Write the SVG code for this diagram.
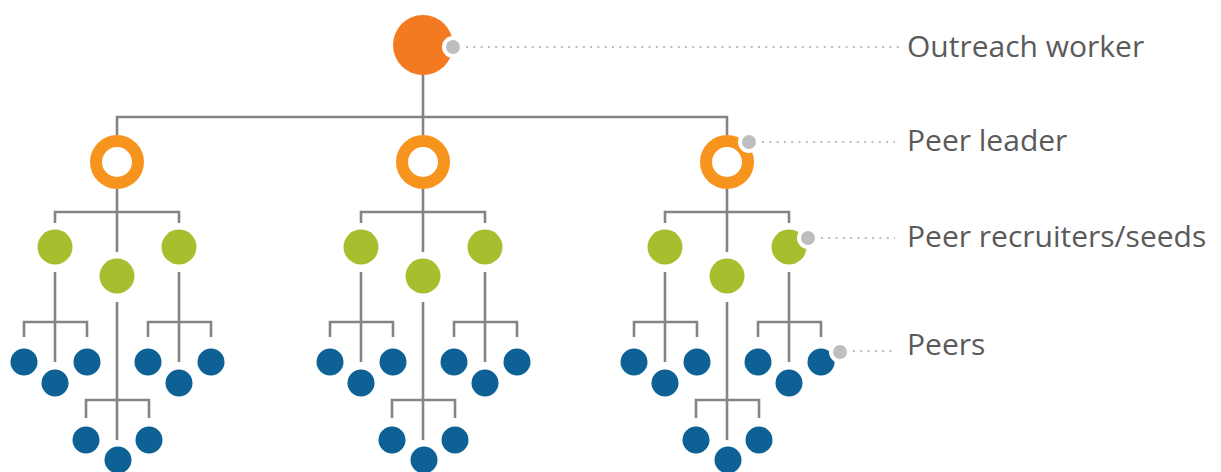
<svg xmlns="http://www.w3.org/2000/svg" width="1221" height="472" viewBox="0 0 1221 472">
  <style>
    .link { fill: none; stroke: #848484; stroke-width: 2.6; }
    .lead { fill: none; stroke: #BDBDC0; stroke-width: 2; stroke-dasharray: 2 5.3; }
    .worker { fill: #F47A21; }
    .leader { fill: none; stroke: #F7941E; stroke-width: 12; }
    .seed { fill: #A9BE2E; }
    .peer { fill: #0D6194; }
    .tag { fill: #BEBEC1; stroke: #FFFFFF; stroke-width: 4; }
    .label { font-family: "Open Sans", "Noto Sans", "Liberation Sans", sans-serif; font-size: 30px; fill: #5A5A5A; }
  </style>
  <defs>
    <!-- one branch: three seeds, each with three peers -->
    <g id="branch">
      <path class="link" d="M0 189V252 M-62 223V212H62V223
        M-62 272V362 M-93 337V322H-30V337
        M62 272V362 M31 337V322H94V337
        M0 302V440 M-31 418V400H32V418"/>
      <circle class="leader" cx="0" cy="162" r="21"/>
      <circle class="seed" cx="-62" cy="247" r="17.5"/>
      <circle class="seed" cx="62" cy="247" r="17.5"/>
      <circle class="seed" cx="0" cy="276" r="17.5"/>
      <circle class="peer" cx="-93" cy="362" r="13.5"/>
      <circle class="peer" cx="-62" cy="383" r="13.5"/>
      <circle class="peer" cx="-30" cy="362" r="13.5"/>
      <circle class="peer" cx="31" cy="362" r="13.5"/>
      <circle class="peer" cx="62" cy="383" r="13.5"/>
      <circle class="peer" cx="94" cy="362" r="13.5"/>
      <circle class="peer" cx="-31" cy="440" r="13.5"/>
      <circle class="peer" cx="1" cy="460" r="13.5"/>
      <circle class="peer" cx="32" cy="440" r="13.5"/>
    </g>
  </defs>

  <rect width="1221" height="472" fill="#FFFFFF"/>

  <g id="connectors">
    <path class="link" d="M423 75V117 M117 135V117H727V135 M423 117V135"/>
  </g>

  <g id="outreach-worker">
    <circle class="worker" cx="423" cy="45" r="30"/>
  </g>

  <g id="branch-left">
    <use href="#branch" x="117"/>
  </g>
  <g id="branch-middle">
    <use href="#branch" x="423"/>
  </g>
  <g id="branch-right">
    <use href="#branch" x="727"/>
  </g>

  <g id="legend">
    <path class="lead" d="M466 47H900 M762 142H895 M821 238H895 M853 351H895"/>
    <circle class="tag" cx="453" cy="47" r="9"/>
    <circle class="tag" cx="749" cy="142" r="9"/>
    <circle class="tag" cx="808" cy="238" r="9"/>
    <circle class="tag" cx="840" cy="352" r="9"/>
    <text class="label" x="907" y="57">Outreach worker</text>
    <text class="label" x="907" y="151">Peer leader</text>
    <text class="label" x="907" y="247">Peer recruiters/seeds</text>
    <text class="label" x="907" y="355">Peers</text>
  </g>
</svg>
